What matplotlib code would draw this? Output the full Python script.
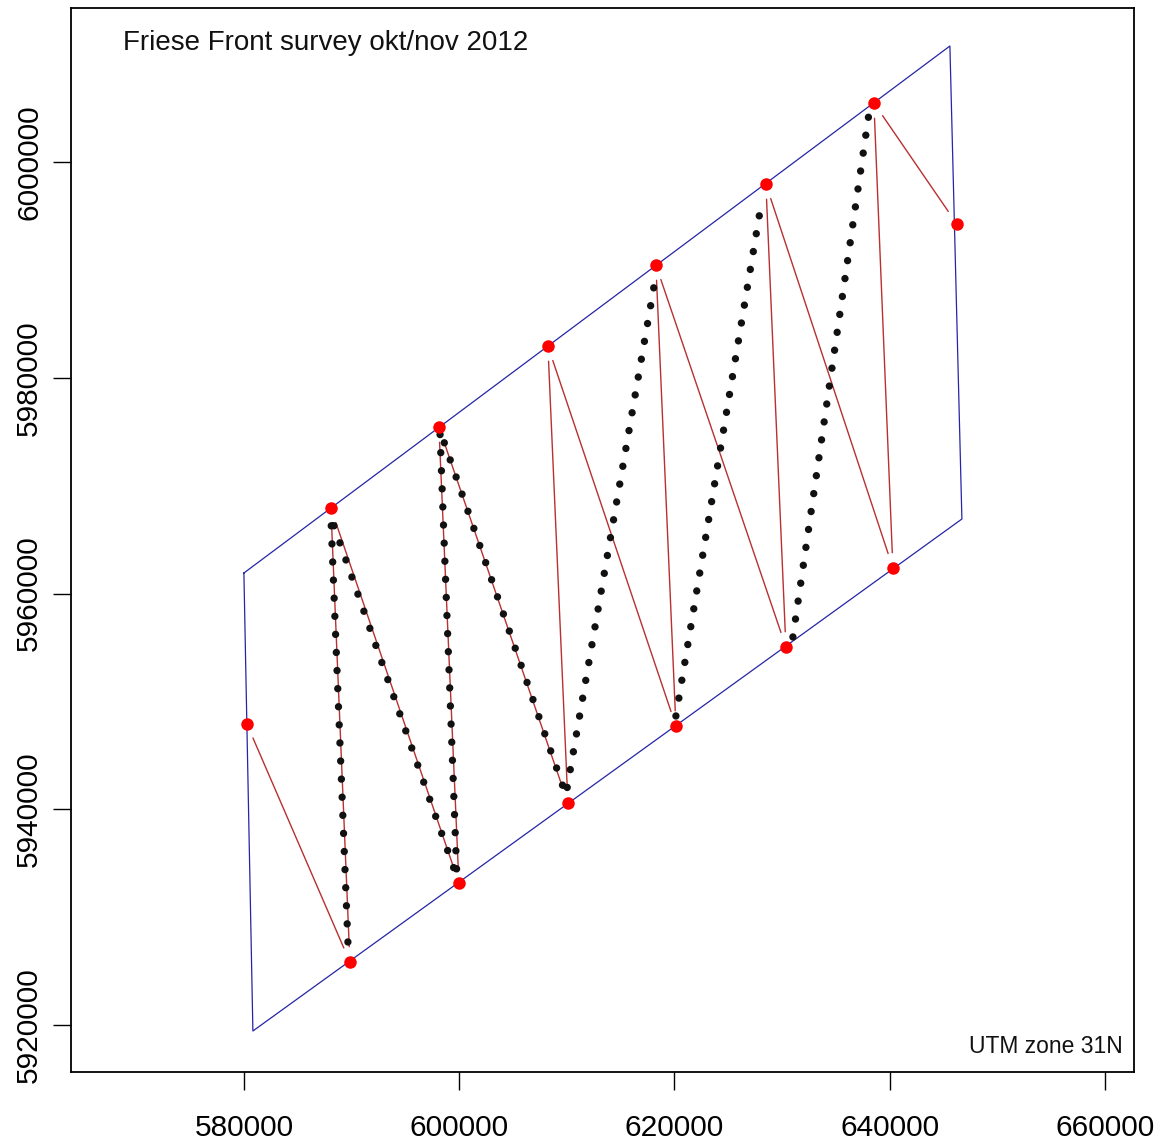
import matplotlib
matplotlib.use("Agg")
import matplotlib.pyplot as plt
import numpy as np

# Survey area polygon (UTM 31N)
area_x = [580000, 580836, 646702, 645587, 580000]
area_y = [5961900, 5919444, 5966906, 6010753, 5961900]

# Waypoints W1..W14
wp_x = [580279, 588082, 589847, 598116, 599974, 608242, 610100,
        618275, 620133, 628494, 630352, 638527, 640292, 646238]
wp_y = [5947903, 5967926, 5925840, 5975435, 5933163, 5982943, 5940579,
        5990452, 5947717, 5997960, 5955041, 6005469, 5962364, 5994253]

# Planned route order (1-based waypoint numbers)
route = [1, 3, 2, 5, 4, 7, 6, 9, 8, 11, 10, 13, 12, 14]

# Sailed track (pieces separated by NaN)
track_x = [589662, 588082, 599788, 598208, 609914, 618182, np.nan,
           620133, 628029, np.nan,
           631002, 638155]
track_y = [5927694, 5967092, 5933720, 5975157, 5941321, 5988969, np.nan,
           5948644, 5995921, np.nan,
           5955968, 6005099]

x_ticks = [580000, 600000, 620000, 640000, 660000]
y_ticks = [5920000, 5940000, 5960000, 5980000, 6000000]

FONT = ['Liberation Sans', 'DejaVu Sans']
plt.rcParams['font.family'] = FONT

fig = plt.figure(figsize=(11.62, 11.41), dpi=100)
ax = fig.add_axes([71/1162, 1-1072/1141, (1134-71)/1162, (1072-8)/1141])

ax.plot(area_x, area_y, color='#2525a5', lw=0.9, zorder=2)

for a, b in zip(route[:-1], route[1:]):
    ax.annotate('', xy=(wp_x[b-1], wp_y[b-1]), xytext=(wp_x[a-1], wp_y[a-1]),
                arrowprops=dict(arrowstyle='-', color='#b83030', lw=1.0,
                                shrinkA=11, shrinkB=11), zorder=3)

ax.plot(track_x, track_y, color='#111111', lw=5.3, linestyle=(0, (0.01, 2.45)),
        dash_capstyle='round', zorder=4)

ax.plot(wp_x, wp_y, 'o', color='#ff0000', ms=9, mec='none', zorder=5)

ax.set_xlim(563938, 662690)
ax.set_ylim(5915643, 6014276)

ax.set_xticks(x_ticks)
ax.set_xticklabels([str(v) for v in x_ticks])
ax.set_yticks(y_ticks)
ax.set_yticklabels([str(v) for v in y_ticks], rotation=90, va='center')

ax.tick_params(axis='both', direction='out', length=13, width=1.0, labelsize=21.5,
               colors='black')
ax.tick_params(axis='x', pad=17)
ax.tick_params(axis='y', pad=7)
for s in ax.spines.values():
    s.set_linewidth(1.3)

ax.text(0.049, 0.967, 'Friese Front survey okt/nov 2012', transform=ax.transAxes,
        ha='left', va='center', fontsize=20, color='#111111')
ax.text(0.9897, 0.0244, 'UTM zone 31N', transform=ax.transAxes,
        ha='right', va='center', fontsize=16.5, color='#111111')

fig.savefig('out.png', dpi=100)
